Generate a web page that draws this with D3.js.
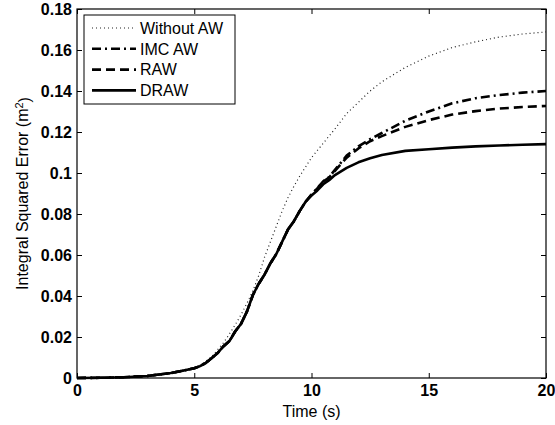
<!DOCTYPE html>
<html lang="en">
<head>
<meta charset="UTF-8">
<title>Integral Squared Error</title>
<script src="https://d3js.org/d3.v7.min.js"></script>
<style>
  body { margin: 0; background: #fff; }
  text { font-family: "Liberation Sans", Arial, Helvetica, sans-serif; }
</style>
</head>
<body>
<svg width="555" height="425"></svg>
<script>
  // time samples (s)
  const time = [0, 1, 2, 3, 4, 4.5, 5, 5.25, 5.5, 5.75, 6, 6.25, 6.5, 6.75, 7, 7.25, 7.5, 7.75,
    8, 8.25, 8.5, 8.75, 9, 9.25, 9.5, 9.75, 10, 10.25, 10.5, 10.75, 11, 11.5, 12, 12.5, 13,
    14, 15, 16, 17, 18, 19, 20];

  const withoutAW = [0, 0.0001, 0.0004, 0.0010, 0.0024, 0.0035, 0.0050, 0.0062, 0.0082, 0.0105, 0.0138,
    0.0172, 0.0215, 0.0260, 0.0310, 0.0365, 0.0425, 0.0500, 0.0590, 0.0665, 0.0740, 0.0815,
    0.0880, 0.0935, 0.0985, 0.1030, 0.1075, 0.1110, 0.1145, 0.1180, 0.1215, 0.1290, 0.1345,
    0.1400, 0.1445, 0.1515, 0.1570, 0.1612, 0.1640, 0.1663, 0.1678, 0.1688];

  const imcAW = [0, 0.0001, 0.0004, 0.0010, 0.0024, 0.0035, 0.0048, 0.0058, 0.0074, 0.0098, 0.0122,
    0.0155, 0.0180, 0.0228, 0.0265, 0.0325, 0.0405, 0.0460, 0.0505, 0.0560, 0.0605, 0.0665,
    0.0725, 0.0765, 0.0815, 0.0860, 0.0895, 0.0925, 0.0960, 0.0980, 0.1015, 0.1085, 0.1130,
    0.1165, 0.1195, 0.1255, 0.1300, 0.1340, 0.1365, 0.1380, 0.1392, 0.1400];

  const raw = [0, 0.0001, 0.0004, 0.0010, 0.0024, 0.0035, 0.0048, 0.0058, 0.0074, 0.0098, 0.0122,
    0.0155, 0.0180, 0.0228, 0.0265, 0.0325, 0.0405, 0.0460, 0.0505, 0.0560, 0.0605, 0.0665,
    0.0725, 0.0765, 0.0815, 0.0860, 0.0895, 0.0925, 0.0958, 0.0978, 0.1010, 0.1075, 0.1120,
    0.1155, 0.1180, 0.1225, 0.1258, 0.1285, 0.1302, 0.1314, 0.1322, 0.1327];

  const draw = [0, 0.0001, 0.0004, 0.0010, 0.0024, 0.0035, 0.0048, 0.0058, 0.0074, 0.0098, 0.0122,
    0.0155, 0.0180, 0.0228, 0.0265, 0.0325, 0.0405, 0.0460, 0.0505, 0.0560, 0.0605, 0.0665,
    0.0725, 0.0765, 0.0815, 0.0860, 0.0890, 0.0915, 0.0945, 0.0965, 0.0990, 0.1025, 0.1052,
    0.1072, 0.1088, 0.1108, 0.1116, 0.1124, 0.1130, 0.1134, 0.1138, 0.1141];

  const seriesNames = ["Without AW", "IMC AW", "RAW", "DRAW"];
  const xTicks = [0, 5, 10, 15, 20];
  const yTicks = [0, 0.02, 0.04, 0.06, 0.08, 0.1, 0.12, 0.14, 0.16, 0.18];

  const svg = d3.select("svg");
  const pLeft = 77, pRight = 546, pTop = 9, pBottom = 378;

  const x = d3.scaleLinear().domain([0, 20]).range([pLeft, pRight]);
  const y = d3.scaleLinear().domain([0, 0.18]).range([pBottom, pTop]);

  // line styles per series
  const styles = [
    { data: withoutAW, width: 1.2, dash: "1,3", color: "#222" },
    { data: imcAW, width: 2.6, dash: "9,4,2,4", color: "#000" },
    { data: raw, width: 2.6, dash: "9,5", color: "#000" },
    { data: draw, width: 2.6, dash: null, color: "#000" }
  ];

  const line = d3.line()
    .x((d, i) => x(time[i]))
    .y(d => y(d));

  styles.forEach(s => {
    svg.append("path")
      .attr("d", line(s.data))
      .attr("fill", "none")
      .attr("stroke", s.color)
      .attr("stroke-width", s.width)
      .attr("stroke-dasharray", s.dash)
      .attr("stroke-linejoin", "round");
  });

  // axes, ticks inward
  const fmt = d => String(+d.toFixed(2));
  svg.append("g").attr("transform", `translate(0,${pBottom})`)
    .call(d3.axisBottom(x).tickValues(xTicks).tickSize(-5).tickSizeOuter(0).tickPadding(7).tickFormat(fmt));
  const yAxis = svg.append("g").attr("transform", `translate(${pLeft},0)`)
    .call(d3.axisLeft(y).tickValues(yTicks).tickSize(-5).tickSizeOuter(0).tickPadding(5).tickFormat(fmt));
  svg.append("g").attr("transform", `translate(0,${pTop})`)
    .call(d3.axisTop(x).tickValues(xTicks).tickSize(-5).tickSizeOuter(0).tickFormat(""));
  svg.append("g").attr("transform", `translate(${pRight},0)`)
    .call(d3.axisRight(y).tickValues(yTicks).tickSize(-5).tickSizeOuter(0).tickFormat(""));

  svg.selectAll(".domain").remove();
  svg.selectAll(".tick line").attr("stroke", "#000");
  svg.selectAll(".tick text")
    .attr("fill", "#000")
    .style("font-size", "16px")
    .style("font-weight", "bold");
  yAxis.selectAll(".tick text").attr("dy", "0.36em");

  // box
  svg.append("rect")
    .attr("x", pLeft).attr("y", pTop)
    .attr("width", pRight - pLeft).attr("height", pBottom - pTop)
    .attr("fill", "none").attr("stroke", "#000").attr("stroke-width", 1.2);

  // axis labels
  svg.append("text")
    .attr("x", x(10)).attr("y", 417)
    .attr("text-anchor", "middle")
    .style("font-size", "16px")
    .text("Time (s)");

  const yl = svg.append("text")
    .attr("transform", `translate(28,${(pTop + pBottom) / 2}) rotate(-90)`)
    .attr("text-anchor", "middle")
    .style("font-size", "16px");
  yl.append("tspan").text("Integral Squared Error (m");
  yl.append("tspan").attr("dy", "-0.45em").style("font-size", "11px").text("2");
  yl.append("tspan").attr("dy", "0.45em").text(")");

  // legend
  const lg = svg.append("g");
  lg.append("rect")
    .attr("x", 84).attr("y", 15).attr("width", 151).attr("height", 89)
    .attr("fill", "#fff").attr("stroke", "#000").attr("stroke-width", 1);
  styles.forEach((s, i) => {
    const ly = 28 + i * 20.8;
    lg.append("line")
      .attr("x1", 92).attr("x2", 136).attr("y1", ly).attr("y2", ly)
      .attr("stroke", s.color).attr("stroke-width", s.width)
      .attr("stroke-dasharray", s.dash);
    lg.append("text")
      .attr("x", 140).attr("y", ly).attr("dy", "0.36em")
      .style("font-size", "16px")
      .text(seriesNames[i]);
  });
</script>
</body>
</html>
